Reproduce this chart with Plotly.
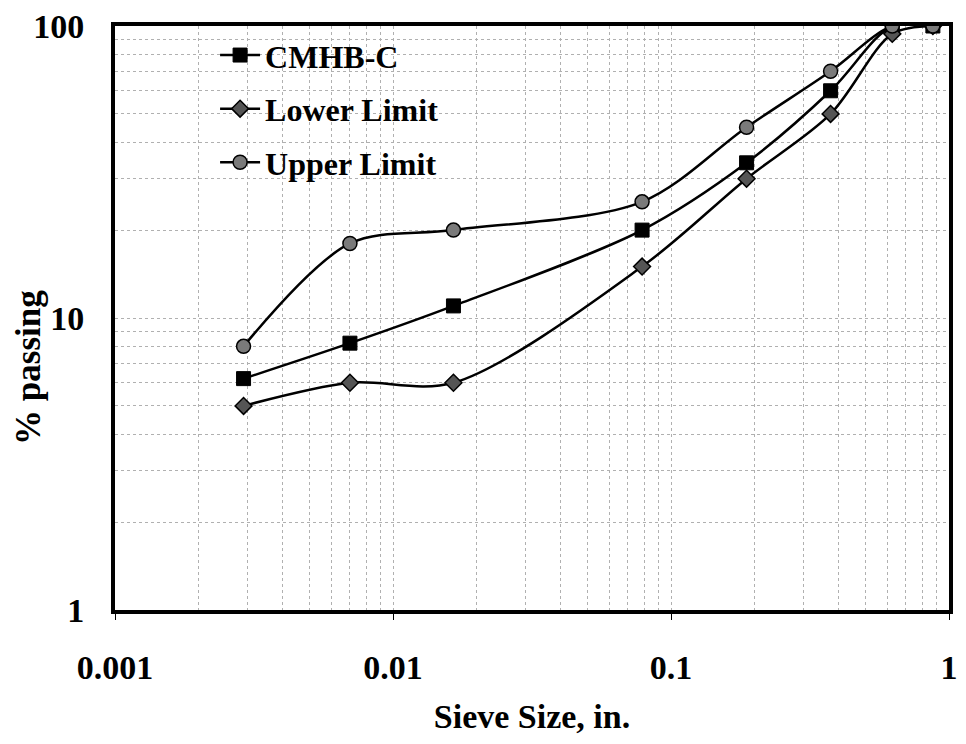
import plotly.graph_objects as go

# Sieve openings (in.) and percent passing for each gradation curve
sieve_in = [0.0029, 0.007, 0.0165, 0.0787, 0.187, 0.375, 0.625, 0.875]
cmhb_c = [6.2, 8.2, 11, 20, 34, 60, 100, 100]
lower_limit = [5, 6, 6, 15, 30, 50, 94, 100]
upper_limit = [8, 18, 20, 25, 45, 70, 100, 100]

x_ticks = [0.001, 0.01, 0.1, 1]
x_tick_text = ["0.001", "0.01", "0.1", "1"]
y_ticks = [1, 10, 100]
y_tick_text = ["1", "10", "100"]

FONT = "Liberation Serif"

fig = go.Figure()

series = [
    ("CMHB-C", cmhb_c, dict(symbol="square", size=14, color="black",
                            line=dict(color="black", width=1))),
    ("Lower Limit", lower_limit, dict(symbol="diamond", size=13, color="#555555",
                                      line=dict(color="black", width=1.5))),
    ("Upper Limit", upper_limit, dict(symbol="circle", size=14, color="#7a7a7a",
                                      line=dict(color="black", width=1.5))),
]
for name, vals, marker in series:
    fig.add_trace(go.Scatter(
        x=sieve_in, y=vals, name=name, legendgroup=name, mode="lines+markers",
        line=dict(color="black", width=2.5, shape="spline", smoothing=0.9),
        marker=marker,
    ))

grid = dict(gridcolor="#b0b0b0", griddash="dot", gridwidth=1)
tick_font = dict(family=FONT, size=34, color="black", weight="bold")

fig.update_xaxes(
    type="log", range=[-3, 0],
    tickvals=x_ticks, ticktext=x_tick_text,
    tickfont=tick_font,
    ticks="outside", ticklen=6, tickcolor="black",
    ticklabelstandoff=18,
    showline=True, linecolor="black", linewidth=4, mirror=True,
    showgrid=True, **grid, zeroline=False,
    minor=dict(dtick="D1", showgrid=True, ticks="", **grid),
    title=dict(text="Sieve Size, in.",
               font=dict(family=FONT, size=34, color="black", weight="bold"),
               standoff=20),
)
fig.update_yaxes(
    type="log", range=[0, 2],
    tickvals=y_ticks, ticktext=y_tick_text,
    tickfont=tick_font,
    # long, blank ticks push the labels away from the axis line
    ticks="outside", ticklen=20, tickcolor="white",
    showline=True, linecolor="black", linewidth=4, mirror=True,
    showgrid=True, **grid, zeroline=False,
    minor=dict(dtick="D1", showgrid=True, ticks="", **grid),
)

# Overlay axis that only draws the short black tick marks on the left
fig.update_layout(
    yaxis2=dict(
        type="log", range=[0, 2], overlaying="y", side="left",
        tickvals=y_ticks, showticklabels=False,
        ticks="outside", ticklen=5, tickcolor="black",
        showline=False, showgrid=False, zeroline=False,
    )
)

fig.add_annotation(
    text="% passing", textangle=-90, showarrow=False,
    xref="paper", yref="paper", x=-0.104, y=0.415,
    xanchor="center", yanchor="middle",
    font=dict(family=FONT, size=35, color="black", weight="bold"),
)

fig.update_layout(
    width=966, height=744,
    margin=dict(l=115, r=8, t=20, b=134),
    plot_bgcolor="white", paper_bgcolor="white",
    font=dict(family=FONT, color="black"),
    showlegend=True,
    legend=dict(
        x=0.12, y=0.997, xanchor="left", yanchor="top",
        bgcolor="rgba(0,0,0,0)",
        font=dict(family=FONT, size=32, color="black", weight="bold"),
        itemwidth=40, tracegroupgap=9, traceorder="grouped",
    ),
)

fig.write_html("out.html")
